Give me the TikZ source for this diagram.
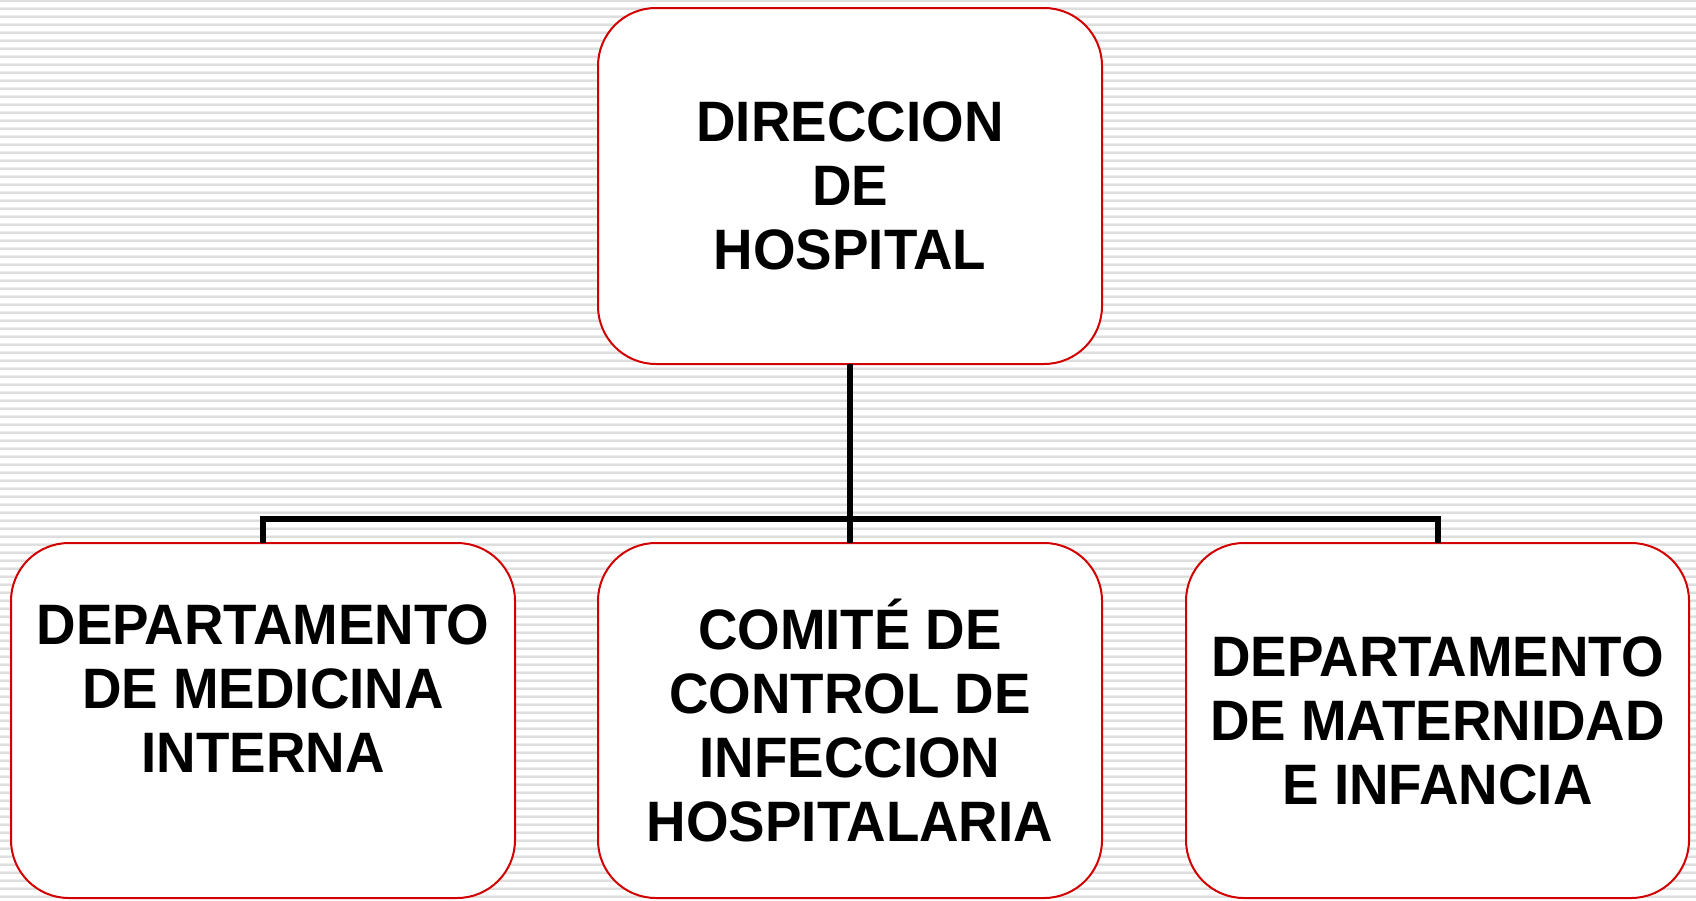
\documentclass[tikz,border=0pt]{standalone}
\usepackage{fontspec}
\newfontfamily\boxfont{Liberation Sans}[FakeStretch=0.96]
\definecolor{boxred}{RGB}{210,0,0}
\definecolor{stripedark}{RGB}{222,222,222}
\definecolor{stripelight}{RGB}{238,238,238}
\tikzset{
  orgbox/.style={draw=boxred, line width=2pt, fill=white, rounded corners=58pt,
    minimum width=504pt, minimum height=356pt, inner sep=0pt, outer sep=0pt,
    align=center, font=\boxfont\bfseries\fontsize{57}{64}\selectfont},
  conn/.style={draw=black, line width=6pt, line join=miter}
}
\begin{document}
\begin{tikzpicture}[x=1pt,y=-1pt]
\useasboundingbox (0,0) rectangle (1696,900);
\fill[white] (0,0) rectangle (1696,900);
\foreach \i in {0,...,112}{
  \fill[stripelight] (0,8*\i-1) rectangle (1696,8*\i);
  \fill[stripedark] (0,8*\i) rectangle (1696,8*\i+2);
}
\coordinate (bus) at (850,519);
\node[orgbox] (top) at (850,186) {DIRECCION\\DE\\HOSPITAL};
\node[orgbox, minimum height=355pt] (left) at (263,720.5) {DEPARTAMENTO\\DE MEDICINA\hspace*{14pt}\\INTERNA\\\mbox{}};
\node[orgbox, minimum height=355pt] (mid) at (850,720.5) {COMITÉ DE\\CONTROL DE\\INFECCION\\HOSPITALARIA};
\node[orgbox, minimum height=355pt, minimum width=503pt] (right) at (1437.5,720.5) {DEPARTAMENTO\\DE MATERNIDAD\\E INFANCIA};
\draw[conn] (top.south) -- (bus);
\draw[conn] (left.north) |- (bus) -| (right.north);
\draw[conn] (bus) -- (mid.north);
\end{tikzpicture}
\end{document}
